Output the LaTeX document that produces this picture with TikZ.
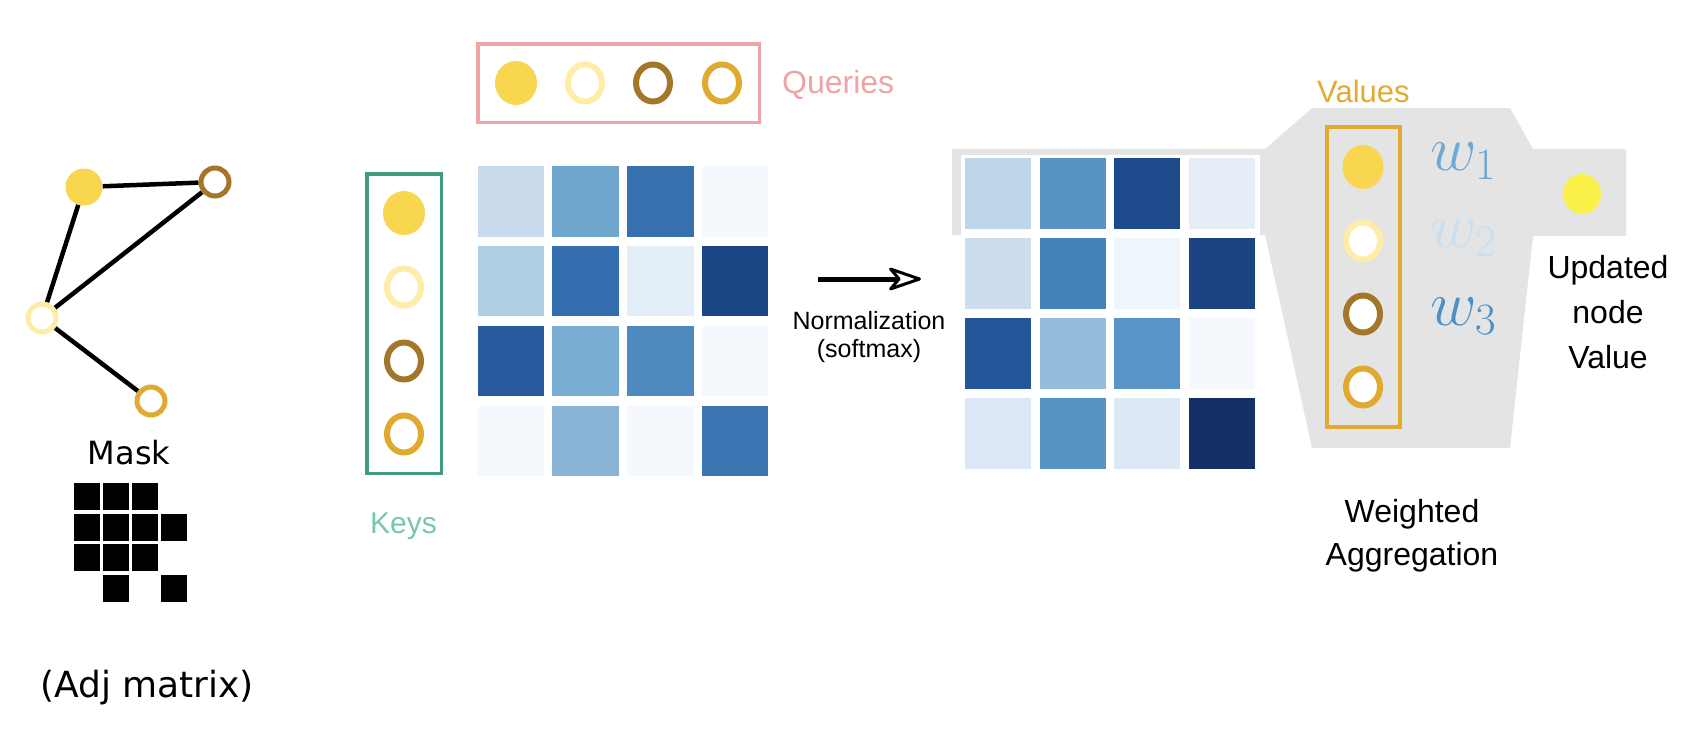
\RequirePackage{fix-cm}
\documentclass[tikz,border=0pt]{standalone}
\usepackage[no-math]{fontspec}
\setmainfont{Liberation Sans}
\newfontfamily\dejavu{DejaVu Sans}
\usetikzlibrary{shapes.geometric,arrows.meta,backgrounds}
\definecolor{qyel}{HTML}{F8D650}
\definecolor{qlight}{HTML}{FDEDA8}
\definecolor{qbrown}{HTML}{A3762A}
\definecolor{qgold}{HTML}{E0A92F}
\definecolor{upd}{HTML}{F9F04A}
\definecolor{qpink}{HTML}{F0A3A5}
\definecolor{kgreen}{HTML}{3F9D78}
\definecolor{kgreentxt}{HTML}{78C8A8}
\definecolor{vgold}{HTML}{E3AA2F}
\definecolor{grayband}{HTML}{E4E4E4}
\definecolor{wone}{HTML}{6EA8D4}
\definecolor{wtwo}{HTML}{C8DFF2}
\definecolor{wthree}{HTML}{4D90C8}
\begin{document}
\begin{tikzpicture}[x=1pt,y=-1pt,
  gfilled/.style={circle, fill=qyel, minimum size=37pt, inner sep=0pt},
  gring/.style={circle, draw=#1, line width=5pt, minimum size=28pt, inner sep=0pt, fill=white},
  efilled/.style={ellipse, fill=qyel, minimum width=42pt, minimum height=44pt, inner sep=0pt},
  ering/.style={ellipse, draw=#1, line width=6pt, minimum width=34pt, minimum height=37pt, inner sep=0pt, fill=white},
  graphedge/.style={line width=4.5pt, black},
  groupbox/.style={draw=#1, rectangle, inner sep=0pt},
  label/.style={inner sep=0pt, font=\fontsize{32}{43}\selectfont},
  wlabel/.style={inner sep=0pt, anchor=base west, font=\fontsize{64}{70}\selectfont},
  maskcell/.style={fill=black}
]
\useasboundingbox (0,0) rectangle (1696,728);

% ---------- graph ----------
\node[gfilled] (g1) at (84,187) {};
\node[gring=qbrown] (g2) at (215,182) {};
\node[gring=qlight] (g3) at (42,318) {};
\node[gring=qgold] (g4) at (151,401) {};
\begin{scope}[on background layer]
  \draw[graphedge] (g1) -- (g2);
  \draw[graphedge] (g1) -- (g3);
  \draw[graphedge] (g2) -- (g3);
  \draw[graphedge] (g3) -- (g4);
\end{scope}

\node[inner sep=0pt, anchor=base, font=\dejavu\fontsize{32}{38}\selectfont] (mask) at (129,464) {Mask};
\foreach \c/\r in {0/0,1/0,2/0, 0/1,1/1,2/1,3/1, 0/2,1/2,2/2, 1/3,3/3}{
  \fill[maskcell] ({74+29*\c},{483+30.7*\r}) rectangle ++(25.5,27);
}
\node[inner sep=0pt, anchor=base, font=\dejavu\fontsize{36}{42}\selectfont] (adj) at (147,697) {(Adj matrix)};

% ---------- queries ----------
\node[groupbox=qpink, line width=3.5pt, minimum width=281.5pt, minimum height=78.5pt] (qbox) at (618.5,83) {};
\node[efilled] (q1) at (516,83) {};
\node[ering=qlight] (q2) at (585,83) {};
\node[ering=qbrown] (q3) at (653,83) {};
\node[ering=qgold] (q4) at (722,83) {};
\node[label, anchor=base west, text=qpink] (qlab) at (782,93) {Queries};

% ---------- keys ----------
\node[groupbox=kgreen, line width=3.5pt, minimum width=74.5pt, minimum height=299.5pt] (kbox) at (404,323.5) {};
\node[efilled] (k1) at (404,213) {};
\node[ering=qlight] (k2) at (404,287) {};
\node[ering=qbrown] (k3) at (404,361) {};
\node[ering=qgold] (k4) at (404,434) {};
\node[label, anchor=base west, text=kgreentxt, font=\fontsize{30}{36}\selectfont] (klab) at (370,533) {Keys};

% ---------- matrix 1 ----------
\foreach \r/\c/\h in {0/0/C9DAED,0/1/6FA6CD,0/2/3670AF,0/3/F5F9FE,
                      1/0/B0CFE4,1/1/356EAE,1/2/E3EEF8,1/3/1B4585,
                      2/0/285B9D,2/1/7AADD2,2/2/4F8ABE,2/3/F5F9FE,
                      3/0/F5F9FE,3/1/8AB4D6,3/2/F5F9FE,3/3/3B76B3}{
  \definecolor{cellc}{HTML}{\h}
  \fill[cellc] ({477.7+74.7*\c},{166+79.9*\r}) rectangle ++(66.5,70.5);
}

% ---------- arrow ----------
\coordinate (arrS) at (818,279);
\coordinate (arrE) at (921,279);
\draw[line width=5pt, -{Stealth[length=38pt,width=26pt,inset=11pt,fill=white,line width=3pt,round]}] (arrS) -- (arrE);
\node[inner sep=0pt, anchor=north, align=center, font=\fontsize{25}{28}\selectfont] (norm) at (869,311) {Normalization\\(softmax)};

% ---------- gray band ----------
\fill[grayband] (952,149) -- (1265,149) -- (1312,108) -- (1510,108) -- (1533,149) -- (1626,149)
  -- (1626,236) -- (1533,236) -- (1510,448) -- (1312,448) -- (1265,235) -- (952,235) -- cycle;
\fill[white] (961,155) rectangle (1260,474);

% ---------- matrix 2 ----------
\foreach \r/\c/\h in {0/0/BDD6EA,0/1/5893C4,0/2/1D4A8B,0/3/E5EEF8,
                      1/0/CCDDEE,1/1/4480BA,1/2/EEF5FB,1/3/1C4483,
                      2/0/23579A,2/1/95BDDB,2/2/5894C5,2/3/F5F9FE,
                      3/0/DCE8F5,3/1/5893C4,3/2/DCE8F5,3/3/133166}{
  \definecolor{cellc}{HTML}{\h}
  \fill[cellc] ({965+74.7*\c},{158+80*\r}) rectangle ++(66,71);
}

% ---------- values ----------
\node[groupbox=vgold, line width=4pt, minimum width=73pt, minimum height=300pt] (vbox) at (1363.5,277) {};
\node[efilled, minimum width=41pt] (v1) at (1363,167) {};
\node[ering=qlight] (v2) at (1363,241) {};
\node[ering=qbrown] (v3) at (1363,314) {};
\node[ering=qgold] (v4) at (1363,387) {};
\node[label, anchor=base west, text=vgold, font=\fontsize{31}{36}\selectfont] (vlab) at (1317,102) {Values};

\node[wlabel, text=wone] (w1) at (1430,170) {$w_1$};
\node[wlabel, text=wtwo] (w2) at (1430,247) {$w_2$};
\node[wlabel, text=wthree] (w3) at (1430,325) {$w_3$};

\node[ellipse, fill=upd, minimum width=38pt, minimum height=40pt, inner sep=0pt] (upd) at (1582,194) {};
\node[label, anchor=north, align=center, font=\fontsize{32}{45}\selectfont] (updlab) at (1608,255) {Updated\\node\\Value};
\node[label, anchor=north, align=center] (agglab) at (1412,499) {Weighted\\Aggregation};
\end{tikzpicture}
\end{document}
